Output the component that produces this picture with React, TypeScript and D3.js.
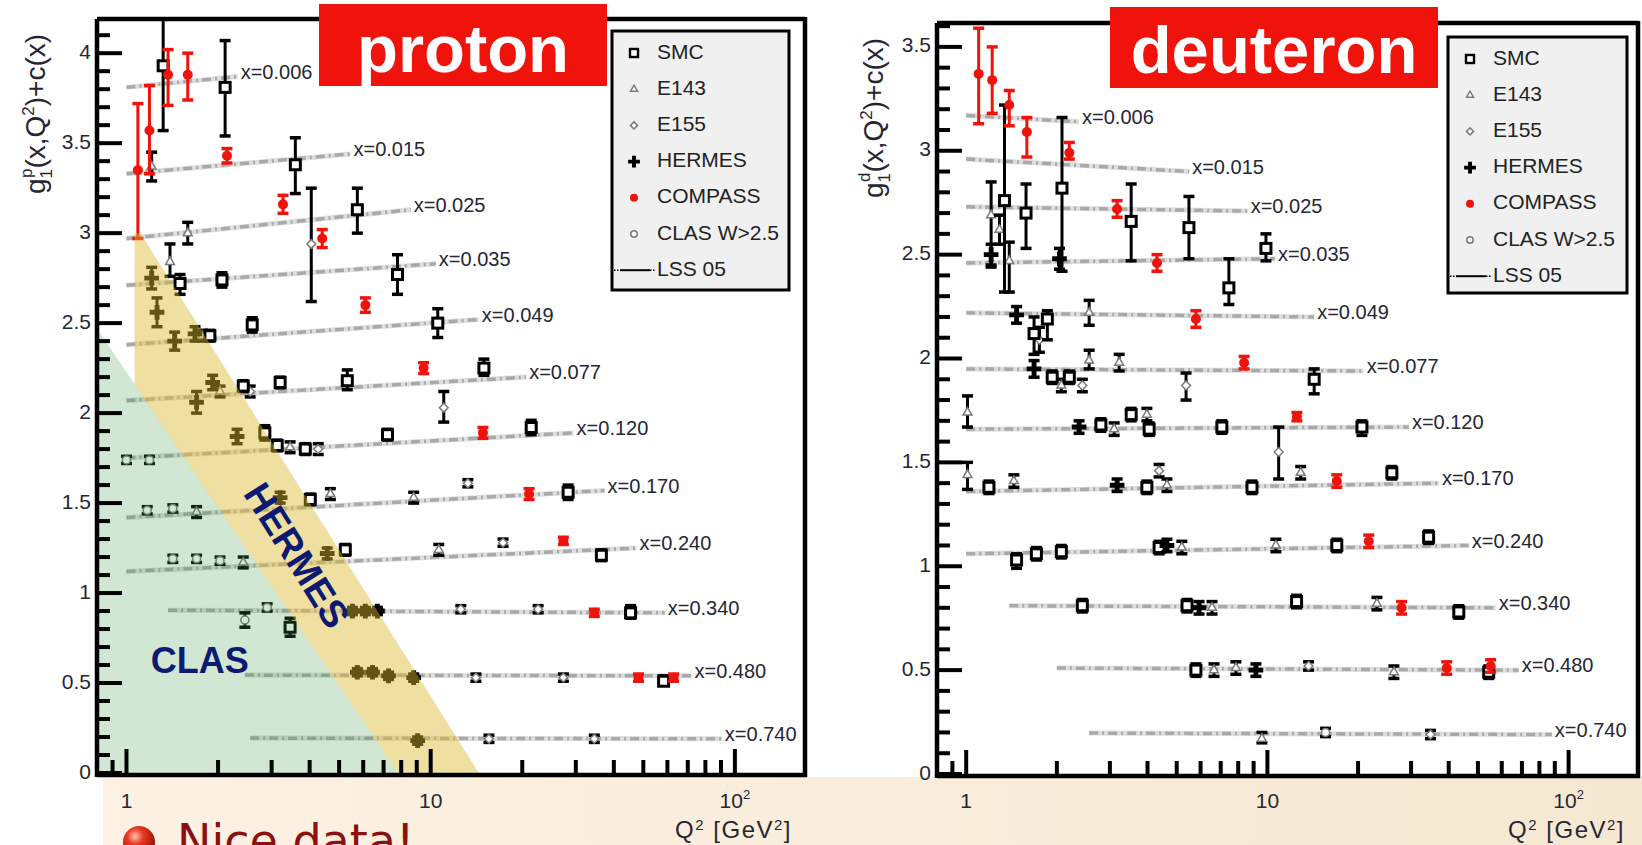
import React from "react";
import * as d3 from "d3";

// ---------- types ----------
type Point = [number, number, number, number]; // Q², value, lower edge, upper edge
type Curve = [number, number, number, number]; // Q² start, Q² end, value at start, value at end
type Vertex = [number, number]; // Q², value

// ---------- data ----------
const Q2_DOMAIN: [number, number] = [0.8, 170];
const X_BINS = ["0.006", "0.015", "0.025", "0.035", "0.049", "0.077", "0.120", "0.170", "0.240", "0.340", "0.480", "0.740"];
const LEGEND_LABELS = ["SMC", "E143", "E155", "HERMES", "COMPASS", "CLAS W>2.5", "LSS 05"];
const PROTON_Y_TICKS = [0, 0.5, 1, 1.5, 2, 2.5, 3, 3.5, 4];
const DEUTERON_Y_TICKS = [0, 0.5, 1, 1.5, 2, 2.5, 3, 3.5];

// LSS 05 fits, one straight segment (in log Q²) per x bin
const PROTON_LSS: Curve[] = [
  [1.0, 2.32, 3.81, 3.87],
  [1.0, 5.45, 3.33, 3.44],
  [1.0, 8.6, 2.97, 3.13],
  [1.0, 10.4, 2.71, 2.83],
  [1.0, 14.4, 2.38, 2.52],
  [1.0, 20.6, 2.07, 2.2],
  [1.0, 29.5, 1.75, 1.89],
  [1.0, 37.3, 1.42, 1.57],
  [1.0, 47.5, 1.12, 1.25],
  [1.37, 58.8, 0.905, 0.89],
  [2.45, 72.0, 0.544, 0.54],
  [2.55, 90.6, 0.194, 0.19],
];

const DEUTERON_LSS: Curve[] = [
  [1.0, 2.37, 3.17, 3.14],
  [1.0, 5.5, 2.96, 2.9],
  [1.0, 8.6, 2.73, 2.71],
  [1.0, 10.6, 2.46, 2.48],
  [1.0, 14.3, 2.22, 2.2],
  [1.0, 20.9, 1.95, 1.94],
  [1.0, 29.5, 1.66, 1.67],
  [1.0, 37.1, 1.36, 1.4],
  [1.0, 46.6, 1.06, 1.1],
  [1.39, 57.3, 0.81, 0.8],
  [2.0, 68.3, 0.51, 0.5],
  [2.56, 88.0, 0.197, 0.19],
];

// proton measurements
const PROTON_SMC: Point[] = [
  [1.32, 3.93, 3.57, 4.3], [2.11, 3.81, 3.54, 4.07], [3.59, 3.38, 3.22, 3.53], [5.74, 3.13, 3.0, 3.25],
  [2.06, 2.74, 2.7, 2.78], [1.5, 2.72, 2.66, 2.77], [7.78, 2.77, 2.66, 2.88], [1.88, 2.43, 2.4, 2.46],
  [2.59, 2.49, 2.45, 2.53], [10.55, 2.5, 2.42, 2.58], [2.42, 2.15, 2.12, 2.18], [3.2, 2.17, 2.14, 2.2],
  [5.32, 2.18, 2.13, 2.24], [14.96, 2.25, 2.21, 2.3], [2.85, 1.89, 1.85, 1.93], [3.13, 1.82, 1.79, 1.85],
  [3.87, 1.8, 1.77, 1.83], [7.21, 1.88, 1.85, 1.91], [21.4, 1.92, 1.88, 1.96], [4.02, 1.52, 1.49, 1.55],
  [28.3, 1.56, 1.52, 1.6], [5.24, 1.24, 1.21, 1.27], [36.4, 1.21, 1.18, 1.24], [3.45, 0.81, 0.76, 0.86],
  [45.4, 0.89, 0.86, 0.93], [58.3, 0.51, 0.49, 0.54],
];
const PROTON_E143: Point[] = [
  [1.21, 3.37, 3.29, 3.45], [1.59, 3.0, 2.94, 3.06], [1.39, 2.84, 2.76, 2.94], [1.78, 2.43, 2.4, 2.46],
  [2.03, 2.12, 2.09, 2.15], [3.45, 1.81, 1.78, 1.84], [1.7, 1.45, 1.42, 1.48], [4.68, 1.55, 1.52, 1.58],
  [8.79, 1.53, 1.5, 1.56], [2.42, 1.17, 1.14, 1.2], [10.63, 1.24, 1.21, 1.27],
];
const PROTON_E155: Point[] = [
  [4.05, 2.94, 2.62, 3.25], [2.55, 2.12, 2.09, 2.15], [11.04, 2.03, 1.95, 2.12], [4.27, 1.8, 1.77, 1.83],
  [13.25, 1.61, 1.59, 1.63], [17.29, 1.28, 1.26, 1.3], [12.56, 0.91, 0.89, 0.93], [22.55, 0.91, 0.89, 0.93],
  [14.08, 0.53, 0.51, 0.55], [27.3, 0.53, 0.51, 0.55], [15.54, 0.19, 0.17, 0.21], [34.5, 0.19, 0.17, 0.21],
];
const PROTON_HERMES: Point[] = [
  [1.21, 2.75, 2.69, 2.81], [1.26, 2.56, 2.48, 2.64], [1.44, 2.4, 2.35, 2.45], [1.68, 2.44, 2.4, 2.48],
  [1.7, 2.06, 2.0, 2.12], [1.92, 2.17, 2.13, 2.21], [2.31, 1.87, 1.83, 1.91], [3.2, 1.53, 1.5, 1.56],
  [4.57, 1.22, 1.19, 1.25], [5.53, 0.9, 0.88, 0.92], [6.1, 0.9, 0.88, 0.92], [6.68, 0.9, 0.88, 0.92],
  [5.74, 0.56, 0.54, 0.58], [6.44, 0.56, 0.54, 0.58], [7.27, 0.54, 0.52, 0.56], [8.79, 0.53, 0.51, 0.55],
  [9.06, 0.18, 0.16, 0.2],
];
const PROTON_COMPASS: Point[] = [
  [1.09, 3.35, 2.97, 3.72], [1.19, 3.57, 3.33, 3.82], [1.37, 3.88, 3.71, 4.02], [1.59, 3.88, 3.74, 4.0],
  [2.14, 3.43, 3.39, 3.47], [3.27, 3.16, 3.11, 3.21], [4.4, 2.97, 2.92, 3.02], [6.1, 2.6, 2.56, 2.64],
  [9.48, 2.25, 2.22, 2.28], [14.85, 1.89, 1.86, 1.92], [21.06, 1.55, 1.52, 1.58], [27.3, 1.29, 1.27, 1.31],
  [34.5, 0.89, 0.87, 0.91], [48.2, 0.53, 0.51, 0.55], [62.9, 0.53, 0.51, 0.55],
];
const PROTON_CLAS: Point[] = [
  [1.0, 1.74, 1.72, 1.76], [1.19, 1.74, 1.72, 1.76], [1.17, 1.46, 1.44, 1.48], [1.42, 1.47, 1.45, 1.49],
  [1.42, 1.19, 1.17, 1.21], [1.7, 1.19, 1.17, 1.21], [2.03, 1.18, 1.16, 1.2], [2.45, 0.85, 0.81, 0.89],
  [2.9, 0.92, 0.9, 0.94],
];

// deuteron measurements
const DEUTERON_SMC: Point[] = [
  [2.08, 2.82, 2.42, 3.16], [1.34, 2.76, 2.32, 3.22], [1.58, 2.7, 2.53, 2.84], [3.53, 2.66, 2.47, 2.84],
  [5.49, 2.63, 2.48, 2.78], [7.45, 2.34, 2.26, 2.48], [9.89, 2.53, 2.47, 2.6], [1.68, 2.12, 2.02, 2.2],
  [1.86, 2.19, 2.09, 2.23], [1.93, 1.91, 1.88, 1.94], [2.2, 1.91, 1.88, 1.94], [14.3, 1.9, 1.83, 1.95],
  [2.8, 1.68, 1.65, 1.71], [3.53, 1.73, 1.7, 1.76], [4.05, 1.66, 1.63, 1.69], [7.06, 1.67, 1.64, 1.7],
  [20.6, 1.67, 1.63, 1.7], [1.19, 1.38, 1.35, 1.41], [3.98, 1.38, 1.35, 1.41], [8.89, 1.38, 1.35, 1.41],
  [25.9, 1.45, 1.42, 1.48], [1.47, 1.03, 0.99, 1.06], [1.71, 1.06, 1.03, 1.09], [2.07, 1.07, 1.04, 1.1],
  [4.37, 1.09, 1.06, 1.12], [17.0, 1.1, 1.07, 1.13], [34.3, 1.14, 1.11, 1.17], [2.43, 0.81, 0.78, 0.84],
  [5.41, 0.81, 0.78, 0.84], [12.5, 0.83, 0.8, 0.86], [43.2, 0.78, 0.75, 0.81], [5.79, 0.5, 0.47, 0.53],
  [54.3, 0.49, 0.46, 0.52],
];
const DEUTERON_E143: Point[] = [
  [1.21, 2.69, 2.44, 2.85], [1.39, 2.47, 2.32, 2.56], [1.29, 2.62, 2.55, 2.69], [2.56, 2.22, 2.16, 2.28],
  [2.07, 1.87, 1.84, 1.9], [2.56, 1.99, 1.95, 2.04], [3.22, 1.98, 1.94, 2.02], [1.01, 1.74, 1.67, 1.82],
  [3.1, 1.66, 1.63, 1.69], [3.98, 1.73, 1.7, 1.76], [1.01, 1.44, 1.37, 1.5], [1.44, 1.41, 1.38, 1.44],
  [4.64, 1.39, 1.36, 1.42], [12.9, 1.45, 1.42, 1.48], [5.2, 1.09, 1.06, 1.12], [10.67, 1.1, 1.07, 1.13],
  [6.55, 0.8, 0.77, 0.83], [23.1, 0.82, 0.79, 0.85], [6.65, 0.5, 0.47, 0.53], [7.86, 0.51, 0.48, 0.54],
  [26.3, 0.49, 0.46, 0.52], [9.59, 0.17, 0.15, 0.2],
];
const DEUTERON_E155: Point[] = [
  [1.75, 2.09, 2.03, 2.15], [2.43, 1.87, 1.84, 1.9], [5.37, 1.87, 1.8, 1.93], [10.9, 1.55, 1.42, 1.67],
  [4.37, 1.46, 1.43, 1.49], [13.7, 0.52, 0.5, 0.54], [34.8, 0.19, 0.17, 0.21],
];
const DEUTERON_HERMES: Point[] = [
  [1.21, 2.5, 2.45, 2.55], [2.04, 2.48, 2.43, 2.53], [1.47, 2.21, 2.17, 2.25], [1.68, 1.95, 1.91, 1.99],
  [2.37, 1.67, 1.64, 1.7], [3.17, 1.39, 1.36, 1.42], [4.64, 1.1, 1.07, 1.13], [5.93, 0.8, 0.77, 0.83],
  [9.16, 0.5, 0.47, 0.53],
];
const DEUTERON_COMPASS: Point[] = [
  [1.1, 3.37, 3.13, 3.59], [1.22, 3.34, 3.18, 3.5], [1.39, 3.22, 3.12, 3.29], [1.59, 3.09, 2.97, 3.16],
  [2.2, 2.99, 2.96, 3.04], [3.17, 2.72, 2.68, 2.76], [4.3, 2.46, 2.42, 2.5], [5.79, 2.19, 2.15, 2.23],
  [8.37, 1.98, 1.95, 2.01], [12.53, 1.72, 1.7, 1.74], [17.0, 1.41, 1.38, 1.44], [21.7, 1.12, 1.09, 1.15],
  [27.9, 0.8, 0.77, 0.83], [39.4, 0.51, 0.48, 0.54], [55.1, 0.52, 0.49, 0.55],
];
const DEUTERON_CLAS: Point[] = [[15.6, 0.2, 0.18, 0.22]];

// kinematic coverage of HERMES and CLAS (proton panel)
const HERMES_BAND: Vertex[] = [[1.063, 3.0], [1.112, 3.0], [14.4, 0], [7.84, 0], [1.063, 2.16]];
const CLAS_REGION: Vertex[] = [[0.8, 2.47], [7.84, 0], [0.8, 0]];
const HERMES_TEXT_AT: Vertex = [3.56, 1.2];
const CLAS_TEXT_AT: Vertex = [1.74, 0.61];

// ---------- layout & style ----------
const W = 1642;
const H = 845;
const FONT = "'Liberation Sans', Arial, Helvetica, sans-serif";
const INK = "#262633";
const RED = "#f0130c";

type Exp = "SMC" | "E143" | "E155" | "HERMES" | "COMPASS" | "CLAS";

interface PanelSpec {
  id: string;
  frame: { left: number; right: number; top: number; bottom: number };
  yMax: number;
  yTicks: number[];
  title: string;
  titleBox: { x: number; y: number; w: number; h: number; baseline: number };
  legend: { x: number; y: number; w: number; h: number };
  yTitle: { x: number; y: number; sup: string };
  curves: Curve[];
  sets: { exp: Exp; pts: Point[] }[];
  shaded: boolean;
}

const PROTON: PanelSpec = {
  id: "p",
  frame: { left: 97, right: 805, top: 19, bottom: 773 },
  yMax: 4.19,
  yTicks: PROTON_Y_TICKS,
  title: "proton",
  titleBox: { x: 319, y: 4, w: 288, h: 82, baseline: 72 },
  legend: { x: 612, y: 31, w: 177, h: 259 },
  yTitle: { x: 45, y: 114, sup: "p" },
  curves: PROTON_LSS,
  sets: [
    { exp: "CLAS", pts: PROTON_CLAS },
    { exp: "E143", pts: PROTON_E143 },
    { exp: "E155", pts: PROTON_E155 },
    { exp: "SMC", pts: PROTON_SMC },
    { exp: "HERMES", pts: PROTON_HERMES },
    { exp: "COMPASS", pts: PROTON_COMPASS },
  ],
  shaded: true,
};

const DEUTERON: PanelSpec = {
  id: "d",
  frame: { left: 937, right: 1638, top: 23, bottom: 774 },
  yMax: 3.615,
  yTicks: DEUTERON_Y_TICKS,
  title: "deuteron",
  titleBox: { x: 1110, y: 7, w: 328, h: 81, baseline: 73 },
  legend: { x: 1448, y: 37, w: 179, h: 256 },
  yTitle: { x: 883, y: 118, sup: "d" },
  curves: DEUTERON_LSS,
  sets: [
    { exp: "CLAS", pts: DEUTERON_CLAS },
    { exp: "E143", pts: DEUTERON_E143 },
    { exp: "E155", pts: DEUTERON_E155 },
    { exp: "SMC", pts: DEUTERON_SMC },
    { exp: "HERMES", pts: DEUTERON_HERMES },
    { exp: "COMPASS", pts: DEUTERON_COMPASS },
  ],
  shaded: false,
};

const symbolPath = (type: d3.SymbolType, size: number) => d3.symbol().type(type).size(size)() as string;

function Marker({ exp, cx, cy, scale = 1 }: { exp: Exp; cx: number; cy: number; scale?: number }) {
  const t = `translate(${cx},${cy})`;
  const s2 = scale * scale;
  switch (exp) {
    case "SMC": {
      const a = 10 * scale;
      return <rect x={cx - a / 2} y={cy - a / 2} width={a} height={a} fill="#fff" stroke="#000" strokeWidth={3 * scale} />;
    }
    case "E143":
      return <path transform={t} d={symbolPath(d3.symbolTriangle2, 55 * s2)} fill="#fff" stroke="#7a7a7a" strokeWidth={1.5} />;
    case "E155":
      return <path transform={t} d={symbolPath(d3.symbolDiamond2, 50 * s2)} fill="#fff" stroke="#7a7a7a" strokeWidth={1.5} />;
    case "HERMES":
      return <path transform={t} d={symbolPath(d3.symbolCross, 120 * s2)} fill="#000" />;
    case "COMPASS":
      return <circle cx={cx} cy={cy} r={5 * scale} fill={RED} />;
    default:
      return <circle cx={cx} cy={cy} r={4 * scale} fill="#fff" stroke="#7a7a7a" strokeWidth={1.5} />;
  }
}

function Panel({ spec }: { spec: PanelSpec }) {
  const f = spec.frame;
  const x = d3.scaleLog().domain(Q2_DOMAIN).range([f.left, f.right]);
  const y = d3.scaleLinear().domain([0, spec.yMax]).range([f.bottom, f.top]);
  const seg = d3.line<Vertex>().x((d) => x(d[0])).y((d) => y(d[1]));
  const area = d3.line<Vertex>().x((d) => x(d[0])).y((d) => y(d[1])).curve(d3.curveLinearClosed);
  const axisY = f.bottom + 2;

  const xTicks = x.ticks().filter((t) => t > Q2_DOMAIN[0] * 1.01);
  const isDecade = (t: number) => Math.abs(Math.log10(t) - Math.round(Math.log10(t))) < 1e-6;
  const yMinor = d3.range(0, Math.floor(spec.yMax * 10 + 1e-6) + 1).map((i) => i / 10);
  const isHalf = (v: number) => Math.abs(v * 2 - Math.round(v * 2)) < 1e-6;

  const lg = spec.legend;
  const rowY = (i: number) => lg.y + 22 + i * 36.2;
  const mx = lg.x + 22;
  const tx = lg.x + 45;

  // HERMES band edge direction for the rotated label
  const e0 = HERMES_BAND[1];
  const e1 = HERMES_BAND[2];
  const bandAngle = (Math.atan2(y(e1[1]) - y(e0[1]), x(e1[0]) - x(e0[0])) * 180) / Math.PI;

  const clipId = `clip-${spec.id}`;

  return (
    <g>
      <defs>
        <clipPath id={clipId}>
          <rect x={f.left} y={f.top} width={f.right - f.left} height={axisY - f.top} />
        </clipPath>
      </defs>

      <g clipPath={`url(#${clipId})`}>
        {/* LSS 05 curves */}
        {spec.curves.map((c, i) => {
          const pts: Vertex[] = [[c[0], c[2]], [c[1], c[3]]];
          return (
            <g key={`c${i}`}>
              <path d={seg(pts) as string} stroke="#dedede" strokeWidth={5} fill="none" />
              <path d={seg(pts) as string} stroke="#a9a9a9" strokeWidth={3.5} strokeDasharray="9 4 2 4" fill="none" />
            </g>
          );
        })}

        {/* measurements */}
        {spec.sets.map((set) =>
          set.pts.map((p, i) => {
            const cx = x(p[0]);
            const cy = y(p[1]);
            const yl = y(p[2]);
            const yh = y(p[3]);
            const col = set.exp === "COMPASS" ? RED : "#000";
            return (
              <g key={`${set.exp}${i}`}>
                <line x1={cx} x2={cx} y1={yl} y2={yh} stroke={col} strokeWidth={3} />
                <line x1={cx - 5.5} x2={cx + 5.5} y1={yl} y2={yl} stroke={col} strokeWidth={3.5} />
                <line x1={cx - 5.5} x2={cx + 5.5} y1={yh} y2={yh} stroke={col} strokeWidth={3.5} />
                <Marker exp={set.exp} cx={cx} cy={cy} />
              </g>
            );
          })
        )}

        {/* coverage regions drawn over the points */}
        {spec.shaded && (
          <g>
            <path d={area(HERMES_BAND) as string} fill="#dcbb30" fillOpacity={0.45} />
            <path d={area(CLAS_REGION) as string} fill="#3f9a48" fillOpacity={0.24} />
          </g>
        )}
      </g>

      {spec.shaded && (
        <g fontWeight="bold" fill="#0c1a72" fontFamily={FONT}>
          <text
            transform={`translate(${x(HERMES_TEXT_AT[0])},${y(HERMES_TEXT_AT[1])}) rotate(${bandAngle})`}
            textAnchor="middle"
            dominantBaseline="middle"
            fontSize={38}
          >
            HERMES
          </text>
          <text x={x(CLAS_TEXT_AT[0])} y={y(CLAS_TEXT_AT[1])} textAnchor="middle" dominantBaseline="middle" fontSize={36}>
            CLAS
          </text>
        </g>
      )}

      {/* x-bin labels at the end of each fit */}
      {spec.curves.map((c, i) => (
        <text key={`l${i}`} x={x(c[1]) + 3} y={y(c[3]) - 3} fontSize={20} fill={INK} dominantBaseline="middle">
          {`x=${X_BINS[i]}`}
        </text>
      ))}

      {/* frame */}
      <g stroke="#000" strokeWidth={4.5} fill="none">
        <line x1={f.left} x2={f.right + 2} y1={axisY} y2={axisY} />
        <line x1={f.left} x2={f.left} y1={f.top} y2={axisY + 2} />
        <line x1={f.left} x2={f.right} y1={f.top} y2={f.top} />
        <line x1={f.right} x2={f.right} y1={f.top - 2} y2={axisY + 2} />
      </g>

      {/* ticks */}
      <g stroke="#000" strokeWidth={4}>
        {xTicks.map((t, i) => (
          <line key={`xt${i}`} x1={x(t)} x2={x(t)} y1={axisY} y2={axisY - (isDecade(t) ? 26 : 15)} />
        ))}
        {yMinor.map((v, i) => (
          <line key={`yt${i}`} x1={f.left} x2={f.left + (isHalf(v) ? 25 : 13)} y1={y(v)} y2={y(v)} />
        ))}
      </g>

      {/* tick labels */}
      <g fontSize={21} fill={INK}>
        {spec.yTicks.map((v) => (
          <text key={`yl${v}`} x={f.left - 6} y={y(v)} textAnchor="end" dominantBaseline="middle">
            {String(v)}
          </text>
        ))}
        {xTicks.filter(isDecade).map((t) => (
          <text key={`xl${t}`} x={x(t)} y={808} textAnchor="middle">
            {t === 100 ? (
              <>
                10<tspan dy={-9} fontSize={13}>2</tspan>
              </>
            ) : (
              String(t)
            )}
          </text>
        ))}
      </g>

      {/* axis titles */}
      <text x={f.right - 13} y={838} textAnchor="end" fontSize={24} fill={INK} letterSpacing={1.5}>
        Q<tspan dy={-8} fontSize={15}>2</tspan>
        <tspan dy={8}> [GeV</tspan>
        <tspan dy={-8} fontSize={15}>2</tspan>
        <tspan dy={8}>]</tspan>
      </text>
      <text transform={`translate(${spec.yTitle.x},${spec.yTitle.y}) rotate(-90)`} textAnchor="middle" fontSize={28} fill={INK}>
        g<tspan dy={7} fontSize={17}>1</tspan>
        <tspan dx={-9} dy={-20} fontSize={17}>{spec.yTitle.sup}</tspan>
        <tspan dy={13}>(x,Q</tspan>
        <tspan dy={-11} fontSize={17}>2</tspan>
        <tspan dy={11}>)+c(x)</tspan>
      </text>

      {/* title box */}
      <rect x={spec.titleBox.x} y={spec.titleBox.y} width={spec.titleBox.w} height={spec.titleBox.h} fill={RED} />
      <text
        x={spec.titleBox.x + spec.titleBox.w / 2}
        y={spec.titleBox.baseline}
        textAnchor="middle"
        fontSize={67}
        fontWeight="bold"
        fill="#fff"
      >
        {spec.title}
      </text>

      {/* legend */}
      <rect x={lg.x} y={lg.y} width={lg.w} height={lg.h} fill="#f0f0f0" stroke="#000" strokeWidth={3} />
      {LEGEND_LABELS.map((label, i) => {
        const exp = (["SMC", "E143", "E155", "HERMES", "COMPASS", "CLAS"] as Exp[])[i];
        return (
          <g key={`lg${i}`}>
            {exp ? (
              <Marker exp={exp} cx={mx} cy={rowY(i)} scale={0.8} />
            ) : (
              <g stroke="#000">
                <line x1={lg.x + 8} x2={lg.x + 38} y1={rowY(i)} y2={rowY(i)} strokeWidth={2} />
                <line x1={lg.x + 2} x2={lg.x + 8} y1={rowY(i)} y2={rowY(i)} strokeWidth={1.5} strokeDasharray="1.5 1.5" />
                <line x1={lg.x + 38} x2={lg.x + 44} y1={rowY(i)} y2={rowY(i)} strokeWidth={1.5} strokeDasharray="1.5 1.5" />
              </g>
            )}
            <text x={tx} y={rowY(i)} dominantBaseline="middle" fontSize={21} fill="#222">
              {label}
            </text>
          </g>
        );
      })}
    </g>
  );
}

export default function App() {
  return (
    <svg
      width={W}
      height={H}
      viewBox={`0 0 ${W} ${H}`}
      style={{ position: "absolute", left: 0, top: 0, background: "#fff" }}
      fontFamily={FONT}
    >
      <defs>
        <linearGradient id="band" x1="0" x2="1" y1="0" y2="0">
          <stop offset="0" stopColor="#fdf1e4" />
          <stop offset="1" stopColor="#f5e8d2" />
        </linearGradient>
        <radialGradient id="bullet" cx="0.38" cy="0.32" r="0.72">
          <stop offset="0" stopColor="#ffc2b0" />
          <stop offset="0.35" stopColor="#ea3a22" />
          <stop offset="1" stopColor="#8c0d06" />
        </radialGradient>
      </defs>
      <rect x={0} y={0} width={W} height={H} fill="#fff" />
      <rect x={103} y={777} width={W - 103} height={H - 777} fill="url(#band)" />
      <Panel spec={PROTON} />
      <Panel spec={DEUTERON} />
      <circle cx={139} cy={842} r={16} fill="url(#bullet)" />
      <text x={177} y={857} fontFamily="'DejaVu Sans', sans-serif" fontSize={46} fill="#8b1010">
        Nice data!
      </text>
    </svg>
  );
}
